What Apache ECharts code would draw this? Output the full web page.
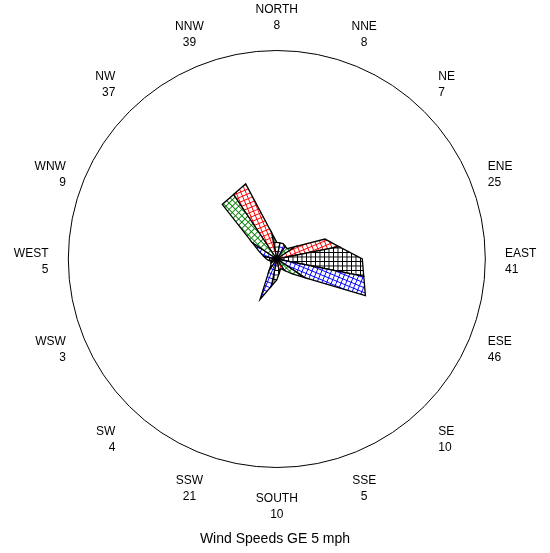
<!DOCTYPE html>
<html>
<head>
<meta charset="utf-8">
<script src="https://cdn.jsdelivr.net/npm/echarts@6/dist/echarts.min.js"></script>
<style>
html,body{margin:0;padding:0;background:#ffffff;}
#chart{width:550px;height:553px;}
</style>
</head>
<body>
<div id="chart"></div>
<script>
// ---- data ----
const directions = ['NORTH','NNE','NE','ENE','EAST','ESE','SE','SSE','SOUTH','SSW','SW','WSW','WEST','WNW','NW','NNW'];
const angles = [0,22.5,45,67.5,90,112.5,135,157.5,180,202.5,225,247.5,270,292.5,315,337.5];
const counts = [8,8,7,25,41,46,10,5,10,21,4,3,5,9,37,39];
const chartTitle = 'Wind Speeds GE 5 mph';

// ---- layout / style ----
const RADIUS_MAX = 100;
const LABEL_R = 109.5;           // label anchor radius in radius-axis units
const LABEL_DY = 3;              // small downward shift of the label ring
const hatchColors = ['#000000', '#0000ff', '#008000', '#ff0000'];
const FONT = '"Liberation Sans", Arial, sans-serif';

function makeHatch(color) {
  const cv = document.createElement('canvas');
  cv.width = 5; cv.height = 5;
  const g = cv.getContext('2d');
  g.fillStyle = '#ffffff';
  g.fillRect(0, 0, 5, 5);
  g.fillStyle = color;
  g.fillRect(0, 0, 5, 1);
  g.fillRect(0, 0, 1, 5);
  return cv;
}
const hatchImgs = hatchColors.map(makeHatch);
const n = counts.length;

function petal(params, api) {
  const i = params.dataIndex;
  const p = (i + n - 1) % n, q = (i + 1) % n;
  const c = api.coord([0, angles[i]]);
  const v = api.coord([counts[i], angles[i]]);
  const vp = api.coord([counts[p], angles[p]]);
  const vq = api.coord([counts[q], angles[q]]);
  const d = a => Math.hypot(a[0] - c[0], a[1] - c[1]);
  const r = d(v), rp = d(vp), rq = d(vq);
  const bp = [(r * vp[0] + rp * v[0]) / (r + rp), (r * vp[1] + rp * v[1]) / (r + rp)];
  const bq = [(rq * v[0] + r * vq[0]) / (r + rq), (rq * v[1] + r * vq[1]) / (r + rq)];
  const rot = (angles[i] - 90) * Math.PI / 180;
  return {
    type: 'polygon',
    shape: { points: [c, bp, v, bq] },
    style: {
      fill: { image: hatchImgs[i % 4], repeat: 'repeat', rotation: rot, scaleX: 0.9, scaleY: 0.9 },
      stroke: '#000000',
      lineWidth: 1.3,
      lineJoin: 'miter'
    }
  };
}

function dirLabel(params, api) {
  const i = params.dataIndex;
  const a = angles[i] * Math.PI / 180;
  const pt = api.coord([LABEL_R, angles[i]]);
  const s = Math.sin(a), co = Math.cos(a);
  const align = s > 0.5 ? 'left' : (s < -0.5 ? 'right' : 'center');
  const valign = co > 0.5 ? 'bottom' : (co < -0.5 ? 'top' : 'middle');
  return {
    type: 'text',
    x: pt[0], y: pt[1] + LABEL_DY,
    style: {
      text: directions[i] + '\n' + counts[i],
      align: align,
      verticalAlign: valign,
      textAlign: align,
      textVerticalAlign: valign,
      font: '12px ' + FONT,
      fill: '#000000',
      lineHeight: 16
    }
  };
}

const chart = echarts.init(document.getElementById('chart'), null, { renderer: 'canvas' });
chart.setOption({
  animation: false,
  backgroundColor: '#ffffff',
  title: {
    text: chartTitle,
    left: 'center',
    top: 532,
    padding: 0,
    textStyle: { fontFamily: FONT, fontSize: 14, fontWeight: 'normal', color: '#000000' }
  },
  polar: { center: [276.8, 259], radius: 208.5 },
  angleAxis: {
    type: 'value', min: 0, max: 360, startAngle: 90, clockwise: true,
    axisLine: { show: true, lineStyle: { color: '#000000', width: 1 } },
    axisTick: { show: false }, axisLabel: { show: false }, splitLine: { show: false }
  },
  radiusAxis: {
    type: 'value', min: 0, max: RADIUS_MAX, show: false,
    axisLine: { show: false }, axisTick: { show: false }, axisLabel: { show: false }, splitLine: { show: false }
  },
  series: [
    {
      type: 'custom', coordinateSystem: 'polar', silent: true,
      data: counts.map((v, i) => [v, angles[i]]),
      encode: { radius: 0, angle: 1 },
      renderItem: petal
    },
    {
      type: 'custom', coordinateSystem: 'polar', silent: true,
      data: counts.map((v, i) => [v, angles[i]]),
      encode: { radius: 0, angle: 1 },
      renderItem: dirLabel
    }
  ]
});
</script>
</body>
</html>
